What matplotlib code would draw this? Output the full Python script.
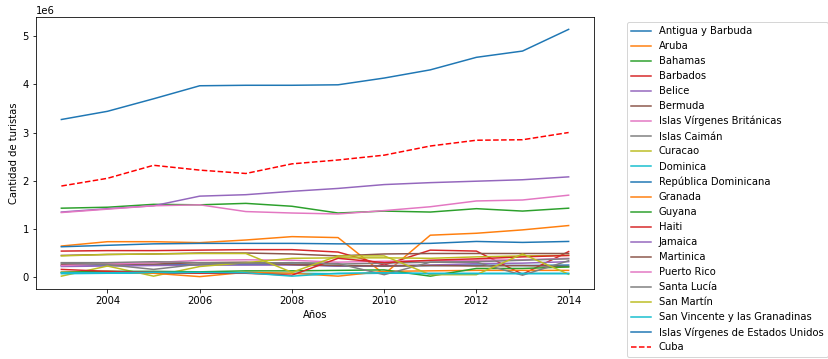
import matplotlib
matplotlib.use("Agg")
import matplotlib.pyplot as plt
import numpy as np

years = list(range(2003, 2015))

antigua = [0.24, 0.25, 0.25, 0.26, 0.26, 0.27, 0.23, 0.23, 0.24, 0.25, 0.24, 0.25]
aruba = [0.645, 0.735, 0.735, 0.715, 0.77, 0.84, 0.82, 0.06, 0.87, 0.91, 0.98, 1.07]
bahamas = [1.43, 1.45, 1.51, 1.50, 1.53, 1.47, 1.33, 1.37, 1.35, 1.42, 1.37, 1.43]
barbados = [0.54, 0.55, 0.55, 0.56, 0.57, 0.57, 0.52, 0.25, 0.56, 0.54, 0.06, 0.53]
belice = [0.22, 0.23, 0.24, 0.25, 0.25, 0.25, 0.23, 0.24, 0.25, 0.28, 0.29, 0.32]
bermuda = [0.26, 0.27, 0.27, 0.30, 0.31, 0.26, 0.24, 0.23, 0.24, 0.23, 0.24, 0.22]
ivb = [0.24, 0.27, 0.30, 0.35, 0.36, 0.35, 0.31, 0.33, 0.34, 0.35, 0.36, 0.39]
caiman = [0.29, 0.26, 0.16, 0.27, 0.29, 0.30, 0.27, 0.29, 0.31, 0.32, 0.35, 0.38]
curacao = [0.02, 0.23, 0.02, 0.22, 0.30, 0.39, 0.40, 0.40, 0.39, 0.42, 0.44, 0.45]
dominica = [0.07, 0.08, 0.08, 0.08, 0.08, 0.08, 0.07, 0.08, 0.08, 0.08, 0.08, 0.08]
rep_dom = [3.27, 3.44, 3.70, 3.97, 3.98, 3.98, 3.99, 4.13, 4.30, 4.56, 4.69, 5.14]
granada = [0.10, 0.12, 0.08, 0.01, 0.10, 0.08, 0.02, 0.12, 0.13, 0.14, 0.14, 0.14]
guyana = [0.10, 0.12, 0.12, 0.11, 0.13, 0.13, 0.14, 0.15, 0.02, 0.18, 0.18, 0.21]
haiti = [0.16, 0.12, 0.10, 0.08, 0.08, 0.04, 0.39, 0.30, 0.35, 0.38, 0.42, 0.45]
jamaica = [1.35, 1.42, 1.48, 1.68, 1.71, 1.78, 1.84, 1.92, 1.96, 1.99, 2.02, 2.08]
martinica = [0.45, 0.47, 0.48, 0.50, 0.50, 0.48, 0.44, 0.48, 0.49, 0.49, 0.49, 0.49]
puerto_rico = [1.34, 1.41, 1.48, 1.50, 1.36, 1.33, 1.31, 1.38, 1.46, 1.58, 1.60, 1.70]
santa_lucia = [0.30, 0.30, 0.32, 0.30, 0.29, 0.30, 0.28, 0.05, 0.31, 0.31, 0.04, 0.34]
san_martin = [0.44, 0.47, 0.48, 0.49, 0.49, 0.10, 0.44, 0.44, 0.05, 0.05, 0.48, 0.06]
svg = [0.09, 0.09, 0.10, 0.10, 0.09, 0.02, 0.08, 0.09, 0.07, 0.07, 0.07, 0.07]
usvi = [0.63, 0.66, 0.69, 0.70, 0.70, 0.70, 0.69, 0.69, 0.70, 0.74, 0.72, 0.74]
cuba = [1.89, 2.05, 2.32, 2.22, 2.15, 2.35, 2.43, 2.53, 2.72, 2.84, 2.85, 3.00]

names = ["Antigua y Barbuda", "Aruba", "Bahamas", "Barbados", "Belice", "Bermuda",
         "Islas Vírgenes Británicas", "Islas Caimán", "Curacao", "Dominica",
         "República Dominicana", "Granada", "Guyana", "Haiti", "Jamaica", "Martinica",
         "Puerto Rico", "Santa Lucía", "San Martín", "San Vincente y las Granadinas",
         "Islas Vírgenes de Estados Unidos"]
series = [antigua, aruba, bahamas, barbados, belice, bermuda, ivb, caiman, curacao,
          dominica, rep_dom, granada, guyana, haiti, jamaica, martinica, puerto_rico,
          santa_lucia, san_martin, svg, usvi]

plt.rcParams['font.family'] = ['DejaVu Sans']
plt.rcParams['font.size'] = 10

fig = plt.figure(figsize=(828/72, 359/72), dpi=72)
ax = fig.add_axes([36/828, (359-289)/359, 558/828, 272/359])

for name, vals in zip(names, series):
    ax.plot(years, np.array(vals) * 1e6, label=name)
ax.plot(years, np.array(cuba) * 1e6, 'r--', label="Cuba")

ax.set_xlabel("Años")
ax.set_ylabel("Cantidad de turistas")
ax.legend(bbox_to_anchor=(1.05, 1), loc='upper left')

fig.savefig("out.png", dpi=72)
